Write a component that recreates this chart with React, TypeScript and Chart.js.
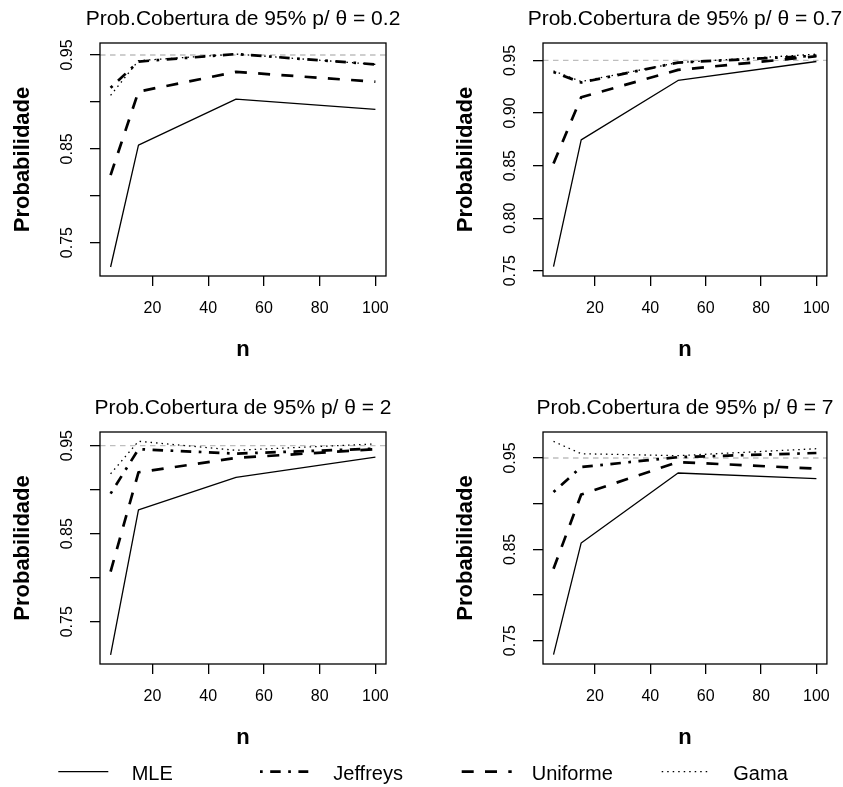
import React, { useEffect, useRef } from 'react';
import { Chart, registerables } from 'chart.js';

Chart.register(...registerables);

const FONT = "'Liberation Sans', Arial, Helvetica, sans-serif";

// ---------- data ----------
const sampleSizes = [5, 15, 50, 100];
const seriesNames = ['MLE', 'Jeffreys', 'Uniforme', 'Gama'];
const thetaValues = ['0.2', '0.7', '2', '7'];

// theta = 0.2
const mleTheta02 = [0.724, 0.854, 0.903, 0.892];
const jeffreysTheta02 = [0.915, 0.943, 0.951, 0.94];
const uniformeTheta02 = [0.822, 0.911, 0.932, 0.9215];
const gamaTheta02 = [0.907, 0.944, 0.951, 0.94];

// theta = 0.7
const mleTheta07 = [0.754, 0.8745, 0.931, 0.949];
const jeffreysTheta07 = [0.939, 0.929, 0.948, 0.9545];
const uniformeTheta07 = [0.852, 0.915, 0.941, 0.954];
const gamaTheta07 = [0.94, 0.93, 0.948, 0.956];

// theta = 2
const mleTheta2 = [0.7125, 0.877, 0.914, 0.937];
const jeffreysTheta2 = [0.8955, 0.946, 0.941, 0.9466];
const uniformeTheta2 = [0.807, 0.9197, 0.936, 0.946];
const gamaTheta2 = [0.918, 0.955, 0.9447, 0.952];

// theta = 7
const mleTheta7 = [0.7347, 0.857, 0.9336, 0.9274];
const jeffreysTheta7 = [0.9128, 0.9401, 0.951, 0.9555];
const uniformeTheta7 = [0.8288, 0.91, 0.9456, 0.9383];
const gamaTheta7 = [0.9682, 0.9547, 0.9526, 0.9602];

const xTickValues = [20, 40, 60, 80, 100];
const yTickValues = [0.75, 0.8, 0.85, 0.9, 0.95];
const yTickLabelsSparse = ['0.75', '', '0.85', '', '0.95'];
const yTickLabelsAll = ['0.75', '0.80', '0.85', '0.90', '0.95'];
const xAxisLimits = [1.2, 103.8];
const yLimitsTheta02 = [0.7144, 0.9628];
const yLimitsTheta07 = [0.745, 0.9666];
const yLimitsTheta2 = [0.702, 0.9655];
const yLimitsTheta7 = [0.7244, 0.9785];
const nominalCoverage = 0.95;

// ---------- styles / layout ----------
const seriesStyles = [
  { width: 1.3, dash: [] as number[] },
  { width: 2.7, dash: [2.7, 7.5, 10.5, 7.5] },
  { width: 2.7, dash: [12, 11.3] },
  { width: 1.3, dash: [1.5, 4] },
];

const panelGeos = [
  { cx: 0, cy: 0, cw: 421, ch: 390, L: 100, T: 43, R: 386, B: 276 },
  { cx: 421, cy: 0, cw: 422, ch: 390, L: 543, T: 43, R: 828, B: 276 },
  { cx: 0, cy: 390, cw: 421, ch: 370, L: 100, T: 432, R: 386, B: 664 },
  { cx: 421, cy: 390, cw: 422, ch: 370, L: 543, T: 432, R: 828, B: 664 },
];

const legendLineX = [
  [58.3, 108.3],
  [260, 308.3],
  [461.7, 511.7],
  [661.7, 708.3],
];
const legendTextX = [131.7, 333.3, 531.7, 733.3];

Chart.defaults.font.family = FONT;
Chart.defaults.color = '#000';

const boxPlugin = {
  id: 'rbox',
  afterDatasetsDraw(chart: any) {
    const { ctx, chartArea: a } = chart;
    ctx.save();
    ctx.strokeStyle = '#000';
    ctx.lineWidth = 1.3;
    ctx.strokeRect(a.left, a.top, a.right - a.left, a.bottom - a.top);
    ctx.restore();
  },
};

type Geo = { cx: number; cy: number; cw: number; ch: number; L: number; T: number; R: number; B: number };

function Panel(props: { theta: string; series: number[][]; yLimits: number[]; yLabels: string[]; geo: Geo }) {
  const ref = useRef<HTMLCanvasElement>(null);
  const { theta, series, yLimits, yLabels, geo } = props;
  useEffect(() => {
    const l = geo.L - geo.cx;
    const t = geo.T - geo.cy;
    const rPad = geo.cw - (geo.R - geo.cx);
    const b = geo.B - geo.cy;
    const titleSize = 21;
    const titleCenter = t - 24;
    const axisTitleSize = 22;
    const axisLH = axisTitleSize * 1.2;
    const yTitlePadTop = l - 77 - axisLH / 2;
    const xTitlePadBottom = geo.ch - (b + 73.7) - axisLH / 2;
    const tickLen = 10;
    const titleText = `Prob.Cobertura de 95% p/ \u03b8 = ${theta}`;

    const titlePlugin = {
      id: 'rtitle',
      afterDraw(chart: any) {
        const { ctx, chartArea: a } = chart;
        ctx.save();
        ctx.fillStyle = '#000';
        ctx.font = `normal ${titleSize}px ${FONT}`;
        ctx.textAlign = 'center';
        ctx.textBaseline = 'middle';
        ctx.fillText(titleText, (a.left + a.right) / 2, titleCenter);
        ctx.restore();
      },
    };

    const datasets: any[] = series.map((vals, i) => ({
      label: seriesNames[i],
      data: sampleSizes.map((n, j) => ({ x: n, y: vals[j] })),
      borderColor: '#000',
      borderWidth: seriesStyles[i].width,
      borderDash: seriesStyles[i].dash,
      borderJoinStyle: 'round',
      pointRadius: 0,
      tension: 0,
      fill: false,
    }));
    datasets.push({
      label: 'ref',
      data: xAxisLimits.map((x) => ({ x, y: nominalCoverage })),
      borderColor: '#BEBEBE',
      borderWidth: 1.3,
      borderDash: [5.5, 4.5],
      pointRadius: 0,
      fill: false,
    });

    const gridOpts = {
      display: true,
      drawOnChartArea: false,
      drawTicks: true,
      tickLength: tickLen,
      tickColor: '#000',
      tickWidth: 1.3,
      color: '#000',
      lineWidth: 1.3,
    };

    const chart = new Chart(ref.current as HTMLCanvasElement, {
      type: 'line',
      data: { datasets },
      plugins: [boxPlugin, titlePlugin],
      options: {
        animation: false,
        responsive: false,
        maintainAspectRatio: false,
        devicePixelRatio: 1,
        events: [],
        layout: { padding: { left: 0, top: t, right: rPad, bottom: 0 } },
        plugins: {
          legend: { display: false },
          tooltip: { enabled: false },
          title: { display: false },
        },
        scales: {
          x: {
            type: 'linear',
            min: xAxisLimits[0],
            max: xAxisLimits[1],
            bounds: 'data',
            afterBuildTicks: (axis: any) => {
              axis.ticks = xTickValues.map((v) => ({ value: v }));
            },
            afterFit: (axis: any) => {
              axis.height = geo.ch - b;
            },
            grid: gridOpts,
            border: { display: false },
            ticks: {
              autoSkip: false,
              maxRotation: 0,
              minRotation: 0,
              padding: 12.7,
              color: '#000',
              font: { family: FONT, size: 16, lineHeight: 1.2 },
              callback: (v: any) => String(v),
            },
            title: {
              display: true,
              text: 'n',
              color: '#000',
              font: { family: FONT, size: axisTitleSize, weight: 'bold', lineHeight: 1.2 },
              padding: { top: 0, bottom: xTitlePadBottom },
            },
          },
          y: {
            type: 'linear',
            min: yLimits[0],
            max: yLimits[1],
            bounds: 'data',
            afterBuildTicks: (axis: any) => {
              axis.ticks = yTickValues.map((v) => ({ value: v }));
            },
            afterFit: (axis: any) => {
              axis.width = l;
            },
            grid: gridOpts,
            border: { display: false },
            ticks: {
              autoSkip: false,
              minRotation: 90,
              maxRotation: 90,
              crossAlign: 'center',
              padding: 6.4,
              color: '#000',
              font: { family: FONT, size: 16, lineHeight: 1.2 },
              callback: (_v: any, i: number) => yLabels[i],
            },
            title: {
              display: true,
              text: 'Probabilidade',
              color: '#000',
              font: { family: FONT, size: axisTitleSize, weight: 'bold', lineHeight: 1.2 },
              padding: { top: yTitlePadTop, bottom: 0 },
            },
          },
        },
      } as any,
    });
    return () => chart.destroy();
  }, []);
  return (
    <canvas
      ref={ref}
      width={geo.cw}
      height={geo.ch}
      style={{ position: 'absolute', left: geo.cx, top: geo.cy, width: geo.cw, height: geo.ch }}
    />
  );
}

export default function App() {
  const panels = [
    { series: [mleTheta02, jeffreysTheta02, uniformeTheta02, gamaTheta02], yLimits: yLimitsTheta02, yLabels: yTickLabelsSparse },
    { series: [mleTheta07, jeffreysTheta07, uniformeTheta07, gamaTheta07], yLimits: yLimitsTheta07, yLabels: yTickLabelsAll },
    { series: [mleTheta2, jeffreysTheta2, uniformeTheta2, gamaTheta2], yLimits: yLimitsTheta2, yLabels: yTickLabelsSparse },
    { series: [mleTheta7, jeffreysTheta7, uniformeTheta7, gamaTheta7], yLimits: yLimitsTheta7, yLabels: yTickLabelsSparse },
  ];
  return (
    <div style={{ position: 'absolute', left: 0, top: 0, width: 843, height: 787, background: '#fff', overflow: 'hidden' }}>
      {panels.map((p, i) => (
        <Panel key={i} theta={thetaValues[i]} series={p.series} yLimits={p.yLimits} yLabels={p.yLabels} geo={panelGeos[i]} />
      ))}
      <svg width={843} height={37} style={{ position: 'absolute', left: 0, top: 750 }}>
        {seriesNames.map((name, i) => (
          <g key={name}>
            <line
              x1={legendLineX[i][0]}
              x2={legendLineX[i][1]}
              y1={21.7}
              y2={21.7}
              stroke="#000"
              strokeWidth={seriesStyles[i].width}
              strokeDasharray={seriesStyles[i].dash.length ? seriesStyles[i].dash.join(' ') : undefined}
            />
            <text x={legendTextX[i]} y={30} fontFamily={FONT} fontSize={20} fill="#000">
              {name}
            </text>
          </g>
        ))}
      </svg>
    </div>
  );
}
